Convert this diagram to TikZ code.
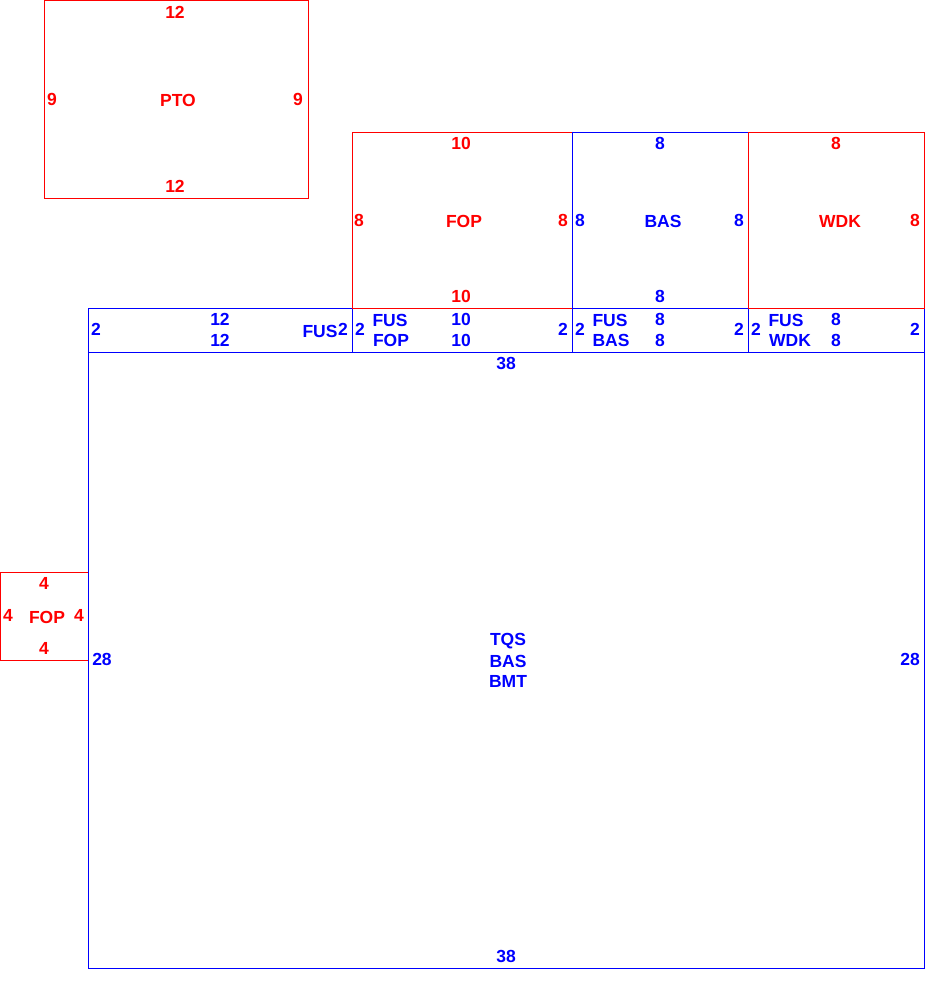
\documentclass[tikz,border=0pt]{standalone}
\usepackage{fontspec}
\setmainfont{Liberation Sans}
\usetikzlibrary{positioning}

\begin{document}
\begin{tikzpicture}[x=1pt,y=-1pt,
  every node/.style={font=\fontsize{17.5}{20}\selectfont\bfseries,inner sep=0pt},
  room/.style={rectangle,draw,line width=1pt,outer sep=0pt,anchor=north west},
  rroom/.style={room,draw=red},
  broom/.style={room,draw=blue},
  rlab/.style={text=red},
  blab/.style={text=blue}]
  \useasboundingbox (0,0) rectangle (949,990);
  % strip below the upper rooms
  \node[broom,minimum width=264pt,minimum height=44pt] (s1) at (88,308) {};
  \node[broom,minimum width=220pt,minimum height=44pt] (s2) at (352,308) {};
  \node[broom,minimum width=176pt,minimum height=44pt] (s3) at (572,308) {};
  \node[broom,minimum width=176pt,minimum height=44pt] (s4) at (748,308) {};
  % rooms
  \node[rroom,minimum width=264pt,minimum height=197.5pt] (pto) at (44,0.5) {};
  \node[rroom,minimum width=220pt,minimum height=176pt] (fop) at (352,132) {};
  \node[broom,minimum width=176pt,minimum height=176pt] (bas) at (572,132) {};
  \node[rroom,minimum width=176pt,minimum height=176pt] (wdk) at (748,132) {};
  \node[rroom,minimum width=87.5pt,minimum height=88pt] (fops) at (0.5,572) {};
  \node[broom,minimum width=836pt,minimum height=616pt] (tqs) at (88,352) {};
  % PTO
  \node[rlab] (ptoN) at (175,12) {12};
  \node[rlab] (ptoS) at (175,186) {12};
  \node[rlab] (ptoW) at (52,99) {9};
  \node[rlab] (ptoE) at (298,99) {9};
  \node[rlab] (ptoC) at (178,100) {PTO};
  % FOP
  \node[rlab] (fopN) at (461,143) {10};
  \node[rlab] (fopS) at (461,296) {10};
  \node[rlab] (fopW) at (359,220) {8};
  \node[rlab] (fopE) at (563,220) {8};
  \node[rlab] (fopC) at (464,221) {FOP};
  % BAS
  \node[blab] (basN) at (660,143) {8};
  \node[blab] (basS) at (660,296) {8};
  \node[blab] (basW) at (580,220) {8};
  \node[blab] (basE) at (739,220) {8};
  \node[blab] (basC) at (663,221) {BAS};
  % WDK
  \node[rlab] (wdkN) at (836,143) {8};
  \node[rlab] (wdkE) at (915,220) {8};
  \node[rlab] (wdkC) at (840,221) {WDK};
  % strip
  \node[blab] (s1W) at (96,329) {2};
  \node[blab] (s1N) at (220,319) {12};
  \node[blab] (s1S) at (220,340) {12};
  \node[blab] (s1C) at (320,331) {FUS};
  \node[blab] (s1E) at (343,329) {2};
  \node[blab] (s2W) at (360,329) {2};
  \node[blab] (s2a) at (390,320) {FUS};
  \node[blab] (s2b) at (391,340) {FOP};
  \node[blab] (s2N) at (461,319) {10};
  \node[blab] (s2S) at (461,340) {10};
  \node[blab] (s2E) at (563,329) {2};
  \node[blab] (s3W) at (580,329) {2};
  \node[blab] (s3a) at (610,320) {FUS};
  \node[blab] (s3b) at (611,340) {BAS};
  \node[blab] (s3N) at (660,319) {8};
  \node[blab] (s3S) at (660,340) {8};
  \node[blab] (s3E) at (739,329) {2};
  \node[blab] (s4W) at (756,329) {2};
  \node[blab] (s4a) at (786,320) {FUS};
  \node[blab] (s4b) at (790,340) {WDK};
  \node[blab] (s4N) at (836,319) {8};
  \node[blab] (s4S) at (836,340) {8};
  \node[blab] (s4E) at (915,329) {2};
  % big room
  \node[blab] (tqsN) at (506,363) {38};
  \node[blab] (tqsS) at (506,956) {38};
  \node[blab] (tqsW) at (102,659) {28};
  \node[blab] (tqsE) at (910,659) {28};
  \node[blab] (tqsA) at (508,641) {TQS};
  \node[blab] (tqsB) at (508,661) {BAS};
  \node[blab] (tqsC) at (508,681) {BMT};
  % small FOP
  \node[rlab] (fopsN) at (44,583) {4};
  \node[rlab] (fopsS) at (44,648) {4};
  \node[rlab] (fopsW) at (8,615) {4};
  \node[rlab] (fopsE) at (79,615) {4};
  \node[rlab] (fopsC) at (47,617) {FOP};
\end{tikzpicture}
\end{document}
